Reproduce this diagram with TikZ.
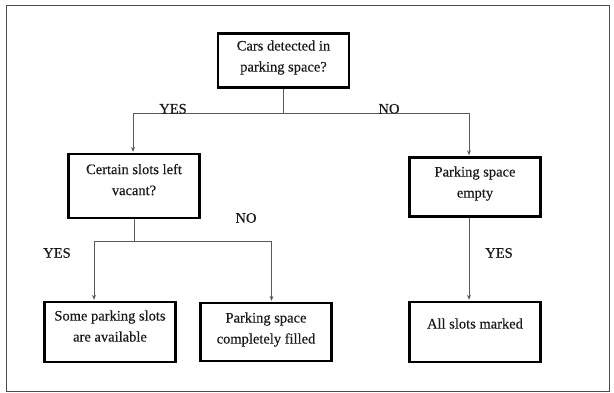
\documentclass[tikz,border=0pt]{standalone}
\usepackage{fontspec}
\setmainfont{Liberation Serif}[FakeBold=0.35]
\usetikzlibrary{arrows.meta}
\newcommand{\dpt}[1]{\rule[-#1]{0pt}{#1}}
\begin{document}
\begin{tikzpicture}[x=1pt,y=-1pt,
  box/.style={draw=black, line width=2.4pt, align=center, minimum width=131pt,
    inner sep=0pt, font=\fontsize{14.5}{21}\selectfont, text=black!90},
  conn/.style={draw=black!65, line width=1pt},
  arr/.style={conn, -{Stealth[length=5pt,width=4pt]}, shorten >=1pt},
  lbl/.style={font=\fontsize{14.5}{17}\selectfont, text=black!90, inner sep=0pt}]
\useasboundingbox (0,0) rectangle (614,392);
\draw[black!70, line width=1pt] (6,5) rectangle (609,391);

\node[box, minimum height=54pt] (top) at (283.5,60.5) {Cars detected in\\parking space?\dpt{9pt}};
\node[box, minimum height=64pt] (left) at (134,186) {Certain slots left\\vacant?\dpt{13pt}};
\node[box, minimum height=59pt] (right) at (475,187) {Parking space\\empty\dpt{10pt}};
\node[box, minimum height=60pt] (bl) at (110,332) {Some parking slots\\are available\dpt{12pt}};
\node[box, minimum height=58pt] (bm) at (266,332) {Parking space\\completely filled\dpt{8pt}};
\node[box, minimum height=60pt] (br) at (475,332) {All slots marked\dpt{17pt}};

\coordinate (hL) at (133,113);
\coordinate (hR) at (469,113);
\coordinate (gL) at (94,241);
\coordinate (gR) at (271.5,241);

\draw[conn] (top.south) -- (top.south |- hL);
\draw[conn] (hL) -- (hR);
\draw[arr] (hL) -- (hL |- left.north);
\draw[arr] (hR) -- (hR |- right.north);
\draw[conn] (left.south) -- (left.south |- gL);
\draw[conn] (gL) -- (gR);
\draw[arr] (gL) -- (gL |- bl.north);
\draw[arr] (gR) -- (gR |- bm.north);
\draw[arr] (right.south -| hR) -- (hR |- br.north);

\node[lbl, anchor=base] (yes1) at (173,113.5) {YES};
\node[lbl, anchor=base] (no1) at (389,113.5) {NO};
\node[lbl] (no2) at (246,218) {NO};
\node[lbl] (yes2) at (57,253) {YES};
\node[lbl] (yes3) at (499,253) {YES};
\end{tikzpicture}
\end{document}
